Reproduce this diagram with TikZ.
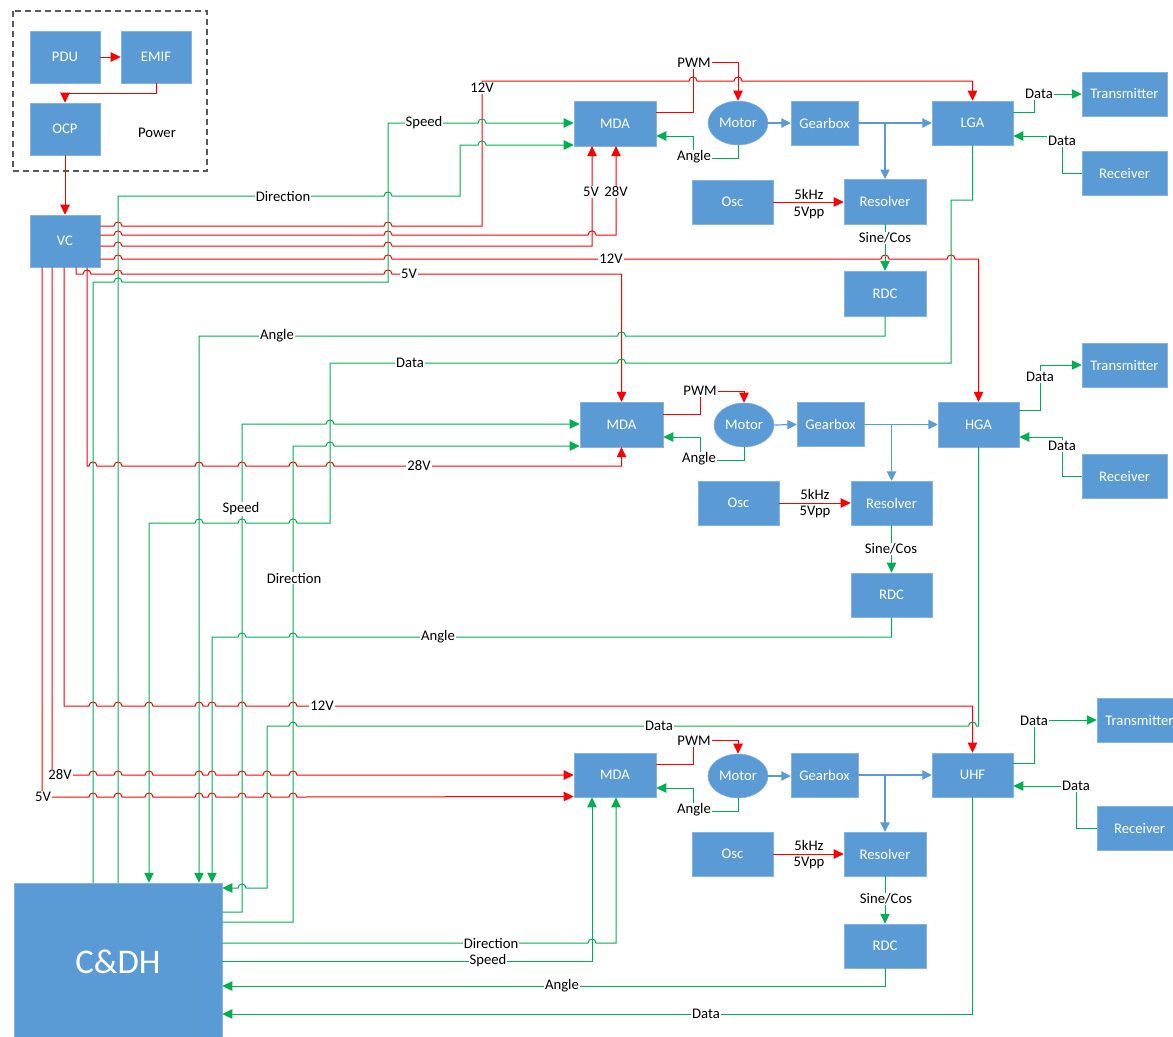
\documentclass[tikz,border=0pt]{standalone}
\usepackage{fontspec}
\setmainfont{Carlito}
\usetikzlibrary{arrows.meta,shapes.geometric}
\definecolor{boxblue}{HTML}{5B9BD5}
\definecolor{lred}{HTML}{FF0000}
\definecolor{lgreen}{HTML}{00B050}
\definecolor{lblue}{HTML}{5B9BD5}
\newcommand\hopR[2]{-- (#1-4,#2) .. controls (#1-4,#2-5.3) and (#1+4,#2-5.3) .. (#1+4,#2)}
\newcommand\hopL[2]{-- (#1+4,#2) .. controls (#1+4,#2-5.3) and (#1-4,#2-5.3) .. (#1-4,#2)}
\begin{document}
\begin{tikzpicture}[x=0.75pt,y=-0.75pt,
  box/.style={rectangle, fill=boxblue, draw=boxblue!75!white, line width=0.4pt, text=white, inner sep=0pt,
    font=\fontsize{11}{13}\selectfont, minimum width=61.5pt, minimum height=33.5pt},
  pbox/.style={box, minimum width=52.5pt, minimum height=39pt},
  gbox/.style={box, minimum width=50.25pt, minimum height=33pt},
  tbox/.style={box, minimum width=63.75pt, minimum height=33pt},
  motor/.style={ellipse, fill=boxblue, draw=boxblue!75!white, line width=0.4pt, text=white, inner sep=0pt,
    minimum width=45pt, minimum height=33pt, font=\fontsize{11}{13}\selectfont},
  rl/.style={draw=lred, line width=0.75pt},
  gl/.style={draw=lgreen, line width=0.75pt},
  ra/.style={rl, -{Triangle[length=7.5pt,width=7pt]}},
  ga/.style={gl, -{Triangle[length=7.5pt,width=7pt]}},
  ba/.style={draw=lblue, line width=0.9pt, -{Triangle[length=7pt,width=7pt]}},
  lbl/.style={fill=white, inner sep=0.8pt, text=black, font=\fontsize{11}{13}\selectfont},
]
\useasboundingbox (0,0) rectangle (1173,1036);
\fill[white] (0,0) rectangle (1173,1036);

% ---------- nodes ----------
\draw[black!65, line width=0.8pt, dash pattern=on 4.5pt off 3pt] (13,11) rectangle (207,171);
\node[pbox] (PDU) at (65,57) {PDU};
\node[pbox] (EMIF) at (156,57) {EMIF};
\node[pbox] (OCP) at (65,129) {OCP};
\node[text=black, font=\fontsize{11}{13}\selectfont] (powerlbl) at (157,133) {Power};
\node[pbox] (VC) at (65,241) {VC};

\node[box] (MDA1) at (615,123.5) {MDA};
\node[motor] (Motor1) at (738,123) {Motor};
\node[gbox] (Gearbox1) at (824.5,123) {Gearbox};
\node[box, minimum width=60.75pt, minimum height=33pt] (LGA) at (972.5,123) {LGA};
\node[tbox] (Tx1) at (1124.5,94) {Transmitter};
\node[tbox] (Rx1) at (1124.5,173.5) {Receiver};
\node[box, minimum width=60.75pt, minimum height=33pt] (Osc1) at (732.5,202) {Osc};
\node[box] (Resolver1) at (885,201.5) {Resolver};
\node[box] (RDC1) at (885,293.5) {RDC};

\node[box, minimum width=62.25pt] (MDA2) at (621.5,424.5) {MDA};
\node[motor] (Motor2) at (744,425) {Motor};
\node[gbox] (Gearbox2) at (830.5,424.5) {Gearbox};
\node[box, minimum width=60.75pt] (HGA) at (978.5,424.5) {HGA};
\node[tbox] (Tx2) at (1124.5,365) {Transmitter};
\node[tbox] (Rx2) at (1124.5,476) {Receiver};
\node[box, minimum width=60.75pt, minimum height=33pt] (Osc2) at (738.5,503) {Osc};
\node[box, minimum width=60.75pt, minimum height=33pt] (Resolver2) at (891.5,503) {Resolver};
\node[box, minimum width=60.75pt, minimum height=33pt] (RDC2) at (891.5,595) {RDC};

\node[box, minimum height=33pt] (MDA3) at (615,775) {MDA};
\node[motor] (Motor3) at (738,776) {Motor};
\node[gbox] (Gearbox3) at (824.5,775) {Gearbox};
\node[box, minimum width=60.75pt, minimum height=33pt] (UHF) at (972.5,775) {UHF};
\node[tbox] (Tx3) at (1139.5,720) {Transmitter};
\node[tbox] (Rx3) at (1139.5,828) {Receiver};
\node[box, minimum width=60.75pt, minimum height=33pt] (Osc3) at (732.5,854) {Osc};
\node[box, minimum height=33pt] (Resolver3) at (885,854) {Resolver};
\node[box, minimum height=33pt] (RDC3) at (885,946) {RDC};

\node[box, minimum width=156pt, minimum height=117.75pt, font=\fontsize{26}{30}\selectfont] (CDH) at (118,961.5) {C\&DH};

% ---------- power chain ----------
\draw[ra] (PDU.east) -- (EMIF.west);
\draw[ra] (EMIF.south) -- (156,93) -- (65,93) -- (OCP.north);
\draw[ra] (OCP.south) -- (VC.north);

% ---------- VC supply lines ----------
\draw[ra] (VC.east |- 0,226) \hopR{118}{226} \hopR{388}{226} -- (482,226) -- (482,81) \hopR{693}{81} \hopR{738}{81} -| (LGA.north);
\draw[ra] (VC.east |- 0,235) \hopR{118}{235} \hopR{388}{235} \hopR{592}{235} -- (616,235) -- (MDA1.south -| 616,0);
\draw[ra] (VC.east |- 0,246) \hopR{118}{246} \hopR{388}{246} -- (592,246) -- (MDA1.south -| 592,0);
\draw[ra] (VC.east |- 0,259) \hopR{118}{259} \hopR{388}{259} \hopR{885}{259} \hopR{951}{259} -| (HGA.north);
\draw[ra] (VC.south -| 76,0) -- (76,274) \hopR{87}{274} \hopR{118}{274} \hopR{388}{274} -| (MDA2.north);
\draw[ra] (VC.south -| 87,0) -- (87,466) \hopR{93}{466} \hopR{118}{466} \hopR{199}{466} \hopR{242}{466} \hopR{293}{466} \hopR{330}{466} -| (MDA2.south);
\draw[ra] (VC.south -| 64,0) -- (64,706) \hopR{93}{706} \hopR{118}{706} \hopR{149}{706} \hopR{199}{706} \hopR{212}{706} \hopR{242}{706} \hopR{293}{706} -| (UHF.north);
\draw[ra] (VC.south -| 52,0) -- (52,775) \hopR{93}{775} \hopR{118}{775} \hopR{149}{775} \hopR{199}{775} \hopR{212}{775} \hopR{242}{775} \hopR{267}{775} \hopR{293}{775} -- (MDA3.west |- 0,775);
\draw[ra] (VC.south -| 42,0) -- (42,797) \hopR{93}{797} \hopR{118}{797} \hopR{149}{797} \hopR{199}{797} \hopR{212}{797} \hopR{242}{797} \hopR{267}{797} \hopR{293}{797} -- (MDA3.west |- 0,796.5);

% ---------- LGA section ----------
\draw[ga] (CDH.north -| 93,0) -- (93,282) \hopR{118}{282} -- (388,282) -- (388,123) \hopR{482}{123} -- (MDA1.west |- 0,123);
\draw[ga] (CDH.north -| 118,0) -- (118,196) \hopR{388}{196} -- (460,196) -- (460,145) \hopR{482}{145} -- (MDA1.west |- 0,145);
\draw[ra] (MDA1.east |- 0,112) -- (693,112) -- (693,62) -- (738,62) -- (Motor1.north);
\draw[ga] (Motor1.south) -- (738,158) -- (693,158) -- (693,136) -- (MDA1.east |- 0,136);
\draw[ba] (Motor1.east) -- (Gearbox1.west);
\draw[ba] (Gearbox1.east) -- (LGA.west);
\draw[ba] (Resolver1.north |- Gearbox1.east) -- (Resolver1.north);
\draw[ra] (Osc1.east) -- (Resolver1.west |- Osc1.east);
\draw[ga] (Resolver1.south) -- (RDC1.north);
\draw[ga] (RDC1.south) -- (885,336) \hopL{621.5}{336} -- (199,336) -- (CDH.north -| 199,0);
\draw[ga] (LGA.south) -- (972.5,200) -- (951,200) -- (951,363) \hopL{621.5}{363} -- (330,363) -- (330,523) \hopL{293}{523} \hopL{242}{523} \hopL{199}{523} -- (149,523) -- (CDH.north -| 149,0);
\draw[ga] (LGA.east |- 0,112) -- (1034,112) -- (1034,94) -- (Tx1.west |- 0,94);
\draw[ga] (Rx1.west) -- (1062,173.5) -- (1062,136) -- (LGA.east |- 0,136);

% ---------- HGA section ----------
\draw[ga] (CDH.east |- 0,912) -- (242,912) -- (242,424) \hopR{330}{424} -- (MDA2.west |- 0,424);
\draw[ga] (CDH.east |- 0,922) -- (293,922) -- (293,446) \hopR{330}{446} -- (MDA2.west |- 0,446);
\draw[ra] (MDA2.east |- 0,414) -- (700,414) -- (700,391) -- (744,391) -- (Motor2.north);
\draw[ga] (Motor2.south) -- (744,460) -- (700,460) -- (700,437) -- (MDA2.east |- 0,437);
\draw[ba] (Motor2.east) -- (Gearbox2.west);
\draw[ba] (Gearbox2.east) -- (HGA.west);
\draw[ba] (Resolver2.north |- Gearbox2.east) -- (Resolver2.north);
\draw[ra] (Osc2.east) -- (Resolver2.west);
\draw[ga] (Resolver2.south) -- (RDC2.north);
\draw[ga] (RDC2.south) -- (891.5,637) \hopL{293}{637} \hopL{242}{637} -- (212,637) -- (CDH.north -| 212,0);
\draw[ga] (HGA.south) -- (978.5,726) \hopL{972.5}{726} \hopL{293}{726} -- (267,726) -- (267,888) \hopL{242}{888} -- (CDH.east |- 0,888);
\draw[ga] (HGA.east |- 0,410) -- (1040,410) -- (1040,365) -- (Tx2.west |- 0,365);
\draw[ga] (Rx2.west) -- (1062,476) -- (1062,437) -- (HGA.east |- 0,437);

% ---------- UHF section ----------
\draw[ra] (MDA3.east |- 0,764) -- (693,764) -- (693,740) -- (738,740) -- (Motor3.north);
\draw[ga] (Motor3.south) -- (738,811) -- (693,811) -- (693,788) -- (MDA3.east |- 0,788);
\draw[ba] (Motor3.east) -- (Gearbox3.west |- Motor3.east);
\draw[ba] (Gearbox3.east) -- (UHF.west);
\draw[ba] (Resolver3.north |- Gearbox3.east) -- (Resolver3.north);
\draw[ra] (Osc3.east) -- (Resolver3.west);
\draw[ga] (Resolver3.south) -- (RDC3.north);
\draw[ga] (RDC3.south) -- (885,986) -- (CDH.east |- 0,986);
\draw[ga] (UHF.south) -- (972.5,1014) -- (CDH.east |- 0,1014);
\draw[ga] (CDH.east |- 0,961) -- (592,961) -- (MDA3.south -| 592,0);
\draw[ga] (CDH.east |- 0,943) \hopR{592}{943} -- (616,943) -- (MDA3.south -| 616,0);
\draw[ga] (UHF.east |- 0,763) -- (1034,763) -- (1034,720) -- (Tx3.west |- 0,720);
\draw[ga] (Rx3.west) -- (1076,828) -- (1076,786) -- (UHF.east |- 0,786);

% ---------- labels ----------
\node[lbl] (l01) at (283,196) {Direction};
\node[lbl] (l02) at (482,88) {12V};
\node[lbl] (l03) at (424,123) {Speed};
\node[lbl] (l04) at (694,63) {PWM};
\node[lbl] (l05) at (694,157) {Angle};
\node[lbl] (l06) at (591,192) {5V};
\node[lbl] (l07) at (616,192) {28V};
\node[lbl] (l08) at (809,194) {5kHz};
\node[lbl] (l09) at (809,213) {5Vpp};
\node[lbl] (l10) at (885,238) {Sine/Cos};
\node[lbl] (l11) at (1039,94) {Data};
\node[lbl] (l12) at (1062,141) {Data};
\node[lbl] (l13) at (611,259) {12V};
\node[lbl] (l14) at (409,274) {5V};
\node[lbl] (l15) at (277,336) {Angle};
\node[lbl] (l16) at (410,363) {Data};
\node[lbl] (l17) at (419,466) {28V};
\node[lbl] (l18) at (700,391) {PWM};
\node[lbl] (l19) at (699,459) {Angle};
\node[lbl] (l20) at (1040,377) {Data};
\node[lbl] (l21) at (1062,446) {Data};
\node[lbl] (l22) at (815,494) {5kHz};
\node[lbl] (l23) at (815,512) {5Vpp};
\node[lbl] (l24) at (891,549) {Sine/Cos};
\node[lbl] (l25) at (241,509) {Speed};
\node[lbl] (l26) at (294,578) {Direction};
\node[lbl] (l27) at (438,637) {Angle};
\node[lbl] (l28) at (322,706) {12V};
\node[lbl] (l29) at (659,726) {Data};
\node[lbl] (l30) at (60,775) {28V};
\node[lbl] (l31) at (43,797) {5V};
\node[lbl] (l32) at (694,741) {PWM};
\node[lbl] (l33) at (694,810) {Angle};
\node[lbl] (l34) at (1034,721) {Data};
\node[lbl] (l35) at (1076,786) {Data};
\node[lbl] (l36) at (809,845) {5kHz};
\node[lbl] (l37) at (809,863) {5Vpp};
\node[lbl] (l38) at (886,899) {Sine/Cos};
\node[lbl] (l39) at (491,943) {Direction};
\node[lbl] (l40) at (488,961) {Speed};
\node[lbl] (l41) at (562,986) {Angle};
\node[lbl] (l42) at (706,1014) {Data};
\end{tikzpicture}
\end{document}
